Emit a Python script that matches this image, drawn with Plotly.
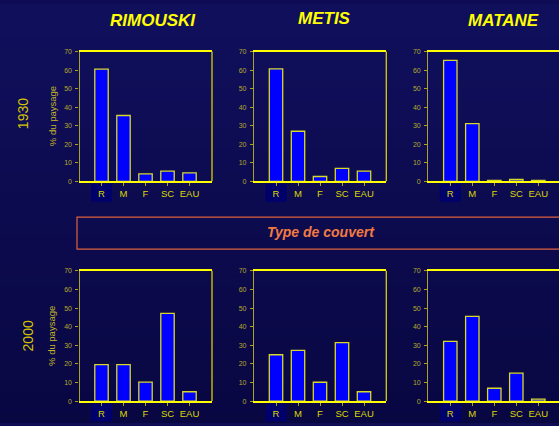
import plotly.graph_objects as go

# ---------------- data ----------------
categories = ["R", "M", "F", "SC", "EAU"]
towns = ["RIMOUSKI", "METIS", "MATANE"]
years = ["1930", "2000"]

rimouski_1930 = [60.5, 35.5, 4.0, 5.5, 4.6]
metis_1930 = [60.6, 27.0, 2.6, 7.0, 5.5]
matane_1930 = [65.2, 31.1, 0.5, 1.0, 0.5]

rimouski_2000 = [19.6, 19.6, 10.2, 47.1, 5.0]
metis_2000 = [24.9, 27.2, 10.1, 31.4, 5.0]
matane_2000 = [32.1, 45.5, 6.9, 15.0, 1.0]

y_ticks = [0, 10, 20, 30, 40, 50, 60, 70]
axis_title = "% du paysage"
middle_label = "Type de couvert"

series = [
    [rimouski_1930, metis_1930, matane_1930],
    [rimouski_2000, metis_2000, matane_2000],
]

# ---------------- layout helpers ----------------
W, H = 559, 426


def fx(p):
    return p / W


def fy(p):
    return 1 - p / H


col_px = [(79.5, 212.0), (254.0, 386.3), (428.3, 559.0)]
row_px = [(48.3, 180.3), (271.3, 403.7)]
PX_PER_CAT = 22.0

YEL = "#ffff00"
OLIVE = "#aaa225"
TICKCOL = "#b4aa2c"
BAR_LINE = "#d8d82a"

fig = go.Figure()
layout = dict(
    width=W, height=H,
    margin=dict(l=0, r=0, t=0, b=0),
    paper_bgcolor="#0e0c54",
    plot_bgcolor="rgba(0,0,0,0)",
    showlegend=False,
    bargap=0.39,
    font=dict(family="Liberation Sans, Arial, sans-serif"),
)

shapes = []
annotations = []

# background gradient (bands)
top_c = (0x10, 0x0f, 0x5c)
bot_c = (0x09, 0x07, 0x42)
n_bands = 40
for i in range(n_bands):
    t = i / (n_bands - 1)
    c = tuple(int(round(top_c[k] + (bot_c[k] - top_c[k]) * t)) for k in range(3))
    shapes.append(dict(type="rect", xref="paper", yref="paper", x0=0, x1=1,
                       y0=max(0, 1 - (i + 1) / n_bands - 0.002), y1=1 - i / n_bands,
                       fillcolor="rgb(%d,%d,%d)" % c, line=dict(width=0), layer="below"))

idx = 0
for r in range(2):
    for c in range(3):
        idx += 1
        xa = "x" if idx == 1 else "x%d" % idx
        ya = "y" if idx == 1 else "y%d" % idx
        xkey = "xaxis" if idx == 1 else "xaxis%d" % idx
        ykey = "yaxis" if idx == 1 else "yaxis%d" % idx
        x0p, x1p = col_px[c]
        y0p, y1p = row_px[r]
        width_px = x1p - x0p

        fig.add_trace(go.Bar(
            x=categories, y=series[r][c], xaxis=xa, yaxis=ya,
            marker=dict(color="#0000ff", line=dict(color=BAR_LINE, width=1.3)),
            hoverinfo="x+y",
        ))

        layout[xkey] = dict(
            domain=[fx(x0p), fx(x1p)], anchor=ya,
            type="category", categoryorder="array", categoryarray=categories,
            range=[-1, -1 + width_px / PX_PER_CAT],
            showline=True, linecolor=YEL, linewidth=1.5, mirror=True,
            ticks="outside", ticklen=3, tickcolor=OLIVE, tickwidth=1,
            tickfont=dict(size=9.5, color="#dcd800"),
            showgrid=False, zeroline=False, fixedrange=True,
        )
        layout[ykey] = dict(
            domain=[fy(y1p), fy(y0p)], anchor=xa,
            range=[0, 70], tickvals=y_ticks,
            showline=True, linecolor=OLIVE, linewidth=1.3, mirror=False,
            ticks="outside", ticklen=3, tickcolor=OLIVE, tickwidth=1,
            tickfont=dict(size=7, color=TICKCOL),
            ticklabelstandoff=2,
            showgrid=False, zeroline=False, fixedrange=True,
        )

        # right frame edge (off-screen for the last column)
        if c < 2:
            shapes.append(dict(type="line", xref=xa + " domain", yref=ya + " domain",
                               x0=1, x1=1, y0=0, y1=1,
                               line=dict(color="#d8d000", width=1.3)))

        # dark highlight behind the "R" label
        shapes.append(dict(type="rect", xref=xa, yref="paper",
                           x0=-0.48, x1=0.48,
                           y0=fy(y1p + 20.7), y1=fy(y1p + 2.7),
                           fillcolor="#00006c", line=dict(width=0), layer="below"))

# column titles
title_pos = [(153, 17), (324, 15), (503, 17)]
for name, (tx, ty) in zip(towns, title_pos):
    annotations.append(dict(text="<b><i>%s</i></b>" % name, x=fx(tx), y=fy(ty),
                            xref="paper", yref="paper", showarrow=False,
                            xanchor="center", yanchor="middle",
                            font=dict(size=17, color=YEL)))

# row labels and y titles
row_label_pos = [(23, 112), (28, 338)]
ytitle_pos = [(52, 114), (52, 337.5)]
for yr, (lx, ly), (ax_, ay_) in zip(years, row_label_pos, ytitle_pos):
    annotations.append(dict(text=yr, x=fx(lx), y=fy(ly), xref="paper", yref="paper",
                            showarrow=False, textangle=-90,
                            xanchor="center", yanchor="middle",
                            font=dict(size=14, color="#d4c400")))
    annotations.append(dict(text=axis_title, x=fx(ax_), y=fy(ay_), xref="paper", yref="paper",
                            showarrow=False, textangle=-90,
                            xanchor="center", yanchor="middle",
                            font=dict(size=9.5, color="#c4b428")))

# middle box
shapes.append(dict(type="rect", xref="paper", yref="paper",
                   x0=fx(77), x1=1.05, y0=fy(249.3), y1=fy(216.7),
                   line=dict(color="#e0603c", width=1.2), fillcolor="rgba(0,0,0,0)"))
annotations.append(dict(text="<b><i>%s</i></b>" % middle_label, x=fx(320.5), y=fy(231.7),
                        xref="paper", yref="paper", showarrow=False,
                        xanchor="center", yanchor="middle",
                        font=dict(size=14, color="#f27a40")))

layout["shapes"] = shapes
layout["annotations"] = annotations
fig.update_layout(**layout)

fig.write_html(
    "out.html",
    config={"displayModeBar": False},
    post_script="document.documentElement.style.margin='0';"
                "document.body.style.margin='0';document.body.style.padding='0';"
                "document.body.style.overflow='hidden';"
                "document.body.style.background='#100f5c';",
)
